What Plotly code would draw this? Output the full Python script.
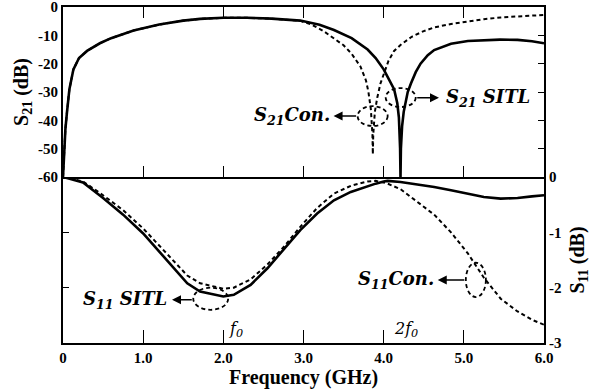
import plotly.graph_objects as go

# ---------------- data ----------------
f_s21_sitl = [0, 0.01, 0.03, 0.05, 0.08, 0.13, 0.2, 0.3, 0.46, 0.6, 0.88, 1.2, 1.5, 1.71, 2.0,
              2.3, 2.6, 2.96, 3.2, 3.38, 3.6, 3.8, 3.9, 4.0, 4.07, 4.13, 4.17, 4.19, 4.205, 4.21,
              4.215, 4.23, 4.25, 4.3, 4.34, 4.4, 4.46, 4.55, 4.63, 4.84, 5.05, 5.25, 5.45, 5.67,
              5.85, 6.0]
s21_sitl = [-60, -52, -43, -37, -29, -22, -18, -15.5, -12.8, -11, -8.3, -6.2, -4.8, -4.2, -3.8,
            -3.8, -4.1, -4.8, -6.3, -8.1, -11, -15, -18, -22, -25.5, -29, -34, -39, -50, -60,
            -50, -42, -37, -30, -27, -23, -20, -17, -15.2, -13, -12, -11.7, -11.5, -11.6,
            -12.1, -12.8]

f_s21_con = [0, 0.01, 0.03, 0.05, 0.08, 0.13, 0.2, 0.3, 0.46, 0.6, 0.88, 1.2, 1.5, 1.71, 2.0,
             2.3, 2.6, 2.96, 3.1, 3.25, 3.4, 3.5, 3.6, 3.71, 3.78, 3.81, 3.84, 3.86, 3.865,
             3.87, 3.89, 3.92, 3.96, 4.0, 4.06, 4.13, 4.21, 4.35, 4.5, 4.63, 4.84, 5.04, 5.25,
             5.46, 5.7, 6.0]
s21_con = [-60, -52, -43, -37, -29, -22, -18, -15.5, -12.8, -11, -8.3, -6.2, -4.8, -4.2, -3.8,
           -3.8, -4.1, -4.9, -6.2, -8.5, -11.5, -13.5, -16.5, -21, -26, -30, -36, -45, -52,
           -45, -37, -32, -27, -23.5, -19, -15.5, -13.4, -10.5, -8.5, -7.2, -6, -5.2, -4.3,
           -3.7, -3.2, -2.8]

f_s11 = [0, 0.25, 0.5, 0.75, 1.0, 1.3, 1.55, 1.71, 2.0, 2.13, 2.34, 2.55, 2.75, 2.96, 3.17,
         3.38, 3.59, 3.8, 3.9, 4.0, 4.05, 4.21, 4.42, 4.63, 4.84, 5.05, 5.25, 5.46, 5.67, 5.85, 6.0]
s11_sitl = [0, -0.1, -0.38, -0.68, -1.02, -1.5, -1.92, -2.07, -2.16, -2.13, -1.95, -1.65, -1.32,
            -0.96, -0.66, -0.42, -0.27, -0.16, -0.12, -0.08, -0.07, -0.09, -0.13, -0.18, -0.24,
            -0.3, -0.36, -0.39, -0.38, -0.35, -0.33]
s11_con = [0, -0.08, -0.33, -0.6, -0.93, -1.4, -1.78, -1.92, -2.02, -2.0, -1.85, -1.58, -1.27,
           -0.9, -0.56, -0.3, -0.16, -0.08, -0.07, -0.1, -0.12, -0.22, -0.45, -0.68, -1.0,
           -1.38, -1.82, -2.2, -2.43, -2.58, -2.67]

x_ticks = [0, 1, 2, 3, 4, 5, 6]
x_ticktext = ["0", "1.0", "2.0", "3.0", "4.0", "5.0", "6.0"]
s21_ticks = [0, -10, -20, -30, -40, -50, -60]
s11_ticks = [0, -1, -2, -3]

# ---------------- figure ----------------
SERIF = "Liberation Serif"
ITAL = "DejaVu Serif"
fig = go.Figure()

solid = dict(color="black", width=2.6)
dashed = dict(color="black", width=2, dash="4px,3px")

fig.add_trace(go.Scatter(x=f_s21_con, y=s21_con, mode="lines", line=dashed, xaxis="x2", yaxis="y"))
fig.add_trace(go.Scatter(x=f_s21_sitl, y=s21_sitl, mode="lines", line=solid, xaxis="x2", yaxis="y"))
fig.add_trace(go.Scatter(x=f_s11, y=s11_con, mode="lines", line=dashed, xaxis="x", yaxis="y2"))
fig.add_trace(go.Scatter(x=f_s11, y=s11_sitl, mode="lines", line=solid, xaxis="x", yaxis="y2"))
# helper traces so overlay tick axes are drawn
fig.add_trace(go.Scatter(x=[None], y=[None], mode="lines", xaxis="x2", yaxis="y3", hoverinfo="skip"))
fig.add_trace(go.Scatter(x=[None], y=[None], mode="lines", xaxis="x", yaxis="y4", hoverinfo="skip"))

split = 1 - 170 / 336
tickfont = dict(family=SERIF, size=15, color="black")
titlefont = dict(family=SERIF, size=20, color="black")

axis_common = dict(showline=True, linecolor="black", linewidth=2, showgrid=False, zeroline=False,
                   automargin=False, ticklabeloverflow="allow")

fig.update_layout(
    width=600, height=389,
    margin=dict(l=63, r=56, t=7, b=46),
    paper_bgcolor="white", plot_bgcolor="white",
    showlegend=False,
    xaxis=dict(domain=[0, 1], anchor="y2", range=[0, 6], tickvals=x_ticks,
               ticktext=["<b>%s</b>" % t for t in x_ticktext],
               ticks="inside", ticklen=13, tickwidth=1, tickcolor="black",
               tickfont=tickfont, mirror=False, **axis_common),
    xaxis2=dict(domain=[0, 1], anchor="y", range=[0, 6], matches="x", tickvals=x_ticks,
                ticks="inside", ticklen=11, tickwidth=1, tickcolor="black",
                showticklabels=False, mirror="ticks", **axis_common),
    yaxis=dict(domain=[split, 1], anchor="x2", range=[-60, 0], tickvals=s21_ticks,
               ticktext=["<b>%d</b>" % v for v in s21_ticks], ticks="", tickfont=tickfont,
               mirror=True,
               title=dict(text="<b>S<sub>21</sub> (dB)</b>", font=titlefont, standoff=4),
               **axis_common),
    yaxis3=dict(overlaying="y", side="right", anchor="x2", range=[-60, 0],
                tickvals=[-10, -20, -30, -40, -50], ticks="inside", ticklen=6, tickwidth=1,
                tickcolor="black", showticklabels=False, showline=False, showgrid=False,
                zeroline=False, automargin=False),
    yaxis2=dict(domain=[0, split], anchor="x", side="right", range=[-3, 0], tickvals=s11_ticks,
                ticktext=["<b>%d</b>" % v for v in s11_ticks], ticks="", tickfont=tickfont,
                mirror=True,
                title=dict(text="<b>S<sub>11</sub> (dB)</b>", font=titlefont, standoff=9),
                **axis_common),
    yaxis4=dict(overlaying="y2", side="left", anchor="x", range=[-3, 0],
                tickvals=[-1, -2], ticks="inside", ticklen=6, tickwidth=1,
                tickcolor="black", showticklabels=False, showline=False, showgrid=False,
                zeroline=False, automargin=False),
)

# x-axis title placed just below tick labels
fig.add_annotation(xref="paper", yref="paper", x=0.5, y=-21 / 336, text="<b>Frequency (GHz)</b>",
                   showarrow=False, xanchor="center", yanchor="top", font=titlefont)

# ellipses
ell = dict(type="circle", line=dict(color="black", width=1.8, dash="4px,3px"))
fig.add_shape(xref="x2", yref="y", x0=3.675, x1=4.05, y0=-42, y1=-35, **ell)
fig.add_shape(xref="x2", yref="y", x0=4.025, x1=4.4, y0=-35.3, y1=-28.6, **ell)
fig.add_shape(xref="x", yref="y2", x0=1.625, x1=2.06, y0=-2.4, y1=-2.0, **ell)
fig.add_shape(xref="x", yref="y2", x0=5.025, x1=5.275, y0=-2.17, y1=-1.55, **ell)

afont = dict(family=ITAL, size=18, color="black")

def arrow(xr, yr, x, y, ax, ay):
    fig.add_annotation(xref=xr, yref=yr, axref=xr, ayref=yr, x=x, y=y, ax=ax, ay=ay, text="",
                       showarrow=True, arrowhead=2, arrowsize=1.2, arrowwidth=1.5,
                       arrowcolor="black")

arrow("x2", "y", 3.375, -38.5, 3.675, -38.5)
arrow("x2", "y", 4.69, -32.0, 4.4, -32.0)
arrow("x", "y2", 1.36, -2.22, 1.625, -2.22)
arrow("x", "y2", 4.675, -1.86, 5.025, -1.86)

def label(xr, yr, x, y, text, anchor, font=afont):
    fig.add_annotation(xref=xr, yref=yr, x=x, y=y, text=text, showarrow=False,
                       xanchor=anchor, yanchor="middle", font=font)

label("x2", "y", 3.36, -38.5, "<b><i>S<sub>21</sub>Con.</i></b>", "right")
label("x2", "y", 4.75, -32.0, "<b><i>S<sub>21</sub> SITL</i></b>", "left")
label("x", "y2", 1.32, -2.22, "<b><i>S<sub>11</sub> SITL</i></b>", "right")
label("x", "y2", 4.65, -1.86, "<b><i>S<sub>11</sub>Con.</i></b>", "right")
ffont = dict(family=ITAL, size=16, color="black")
label("x", "y2", 2.05, -2.75, "<i>f<sub>0</sub></i>", "left", ffont)
label("x", "y2", 4.1, -2.75, "<i>2f<sub>0</sub></i>", "left", ffont)

fig.write_html("out.html", post_script="document.body.style.margin='0';",
               config={"displayModeBar": False})
